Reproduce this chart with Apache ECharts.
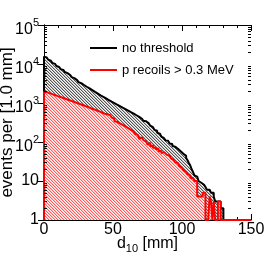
<!DOCTYPE html>
<html><head><meta charset="utf-8">
<script src="https://cdn.jsdelivr.net/npm/echarts@6/dist/echarts.min.js"></script>
<style>html,body{margin:0;padding:0;background:#fff}#c{width:266px;height:254px}</style>
</head><body><div id="c"></div>
<script>
// ---- data (1 mm bins, bin i covers [i, i+1) mm) ----
const binStart = 0;
const binWidth = 1;
const noThreshold = [
  15500,14700,13800,13000,12100,11500,10700,10100,9550,8900,
  8400,7950,7400,7050,6600,6250,5850,5500,5230,4880,
  4600,4350,4080,3870,3600,3430,3220,3070,2890,2760,
  2610,2470,2360,2220,2130,2000,1920,1810,1740,1640,
  1570,1490,1440,1360,1310,1230,1190,1120,1080,1020,
  990,930,905,850,830,780,760,715,700,655,
  640,600,585,545,535,495,485,450,440,410,
  395,380,350,340,312,300,275,262,240,228,
  205,195,172,163,146,138,125,121,110,107,
  100,92,89,79,76,69,67,60,58,52,
  50,45,44,39,34,29,25,20,17,14,
  13,12,10,9,9,8,9,7,6,6,
  6,5,5,4,3,3,3,3,2,2,
  0,0,0,0,0,0,0,0,0,0,
  0,0,0,0,0,0,0,0,0,0
];
const pRecoils = [
  1950,1900,1850,1790,1750,1690,1650,1590,1560,1500,
  1470,1420,1390,1340,1310,1270,1240,1190,1170,1130,
  1100,1060,1040,1000,980,945,925,890,870,835,
  815,785,765,735,720,690,675,650,635,610,
  595,570,560,530,500,515,470,485,450,425,
  395,340,330,318,300,292,275,268,250,242,
  228,220,205,198,186,172,160,152,140,120,
  132,118,112,104,100,86,95,78,82,70,
  74,65,68,58,60,52,55,49,47,44,
  45,40,38,35,33,30,29,26,24,22,
  20,19,17,18,15,14,12,12,11,10,
  10,4,4,4,4,5,5,0,0,0,
  4,3,0,3,0,0,3,3,0,0,
  0,0,0,0,0,0,0,0,0,0,
  0,0,0,0,0,0,0,0,0,0
];
const seriesNames = ['no threshold', 'p recoils > 0.3 MeV'];
const xTickValues = [0, 50, 100, 150];
const yRange = [1, 100000];

// ---- helpers ----
const FONT = 'Liberation Sans';
// diagonal hatch: shades[k] is the colour k pixels off the line
function hatch(shades) {
  const period = shades.length;
  const n = period * 4;
  const c = document.createElement('canvas');
  c.width = n; c.height = n;
  const g = c.getContext('2d');
  for (let y = 0; y < n; y++)
    for (let x = 0; x < n; x++) {
      const k = ((x - y) % period + period) % period;
      g.fillStyle = shades[k];
      g.fillRect(x, y, 1, 1);
    }
  return c;
}
function histPoints(counts) {
  const floor = yRange[0];
  const pts = [[binStart, floor]];
  counts.forEach((v, i) => pts.push([binStart + i * binWidth, Math.max(v, floor)]));
  const last = counts[counts.length - 1];
  pts.push([binStart + counts.length * binWidth, Math.max(last, floor)]);
  return pts;
}

const chart = echarts.init(document.getElementById('c'), null, {renderer: 'canvas', devicePixelRatio: 1});
const xCommon = {
  type: 'value', min: xTickValues[0], max: xTickValues[xTickValues.length - 1],
  interval: xTickValues[1] - xTickValues[0],
  splitLine: {show: false},
  axisLine: {show: true, lineStyle: {color: '#000', width: 1}},
  axisTick: {show: true, inside: true, length: 6, lineStyle: {color: '#000'}},
  minorTick: {show: true, splitNumber: 5, length: 3, lineStyle: {color: '#000'}}
};
const yCommon = {
  type: 'log', logBase: 10, min: yRange[0], max: yRange[1], splitNumber: 5,
  splitLine: {show: false}, minorSplitLine: {show: false},
  axisLine: {show: true, lineStyle: {color: '#000', width: 1}},
  axisTick: {show: true, inside: true, length: 6, lineStyle: {color: '#000'}}
};

chart.setOption({
  animation: false,
  backgroundColor: '#fff',
  textStyle: {fontFamily: FONT},
  grid: {left: 44, right: 15, top: 25, bottom: 34, containLabel: false, outerBoundsMode: 'none'},
  legend: {
    data: seriesNames, orient: 'vertical', left: 85, top: 36,
    icon: 'rect', itemWidth: 27, itemHeight: 2, itemGap: 8, selectedMode: false,
    textStyle: {fontFamily: FONT, fontSize: 13, color: '#000', lineHeight: 14}
  },
  xAxis: [
    Object.assign({}, xCommon, {
      position: 'bottom',
      name: '{a|d}{s|10}{a| [mm]}', nameLocation: 'middle', nameGap: 15, nameMoveOverlap: false,
      nameTextStyle: {rich: {
        a: {fontFamily: FONT, fontSize: 16, color: '#000', lineHeight: 20, height: 18, verticalAlign: 'top'},
        s: {fontFamily: FONT, fontSize: 11, color: '#000', lineHeight: 20, height: 12, verticalAlign: 'bottom'}
      }},
      axisLabel: {show: true, margin: 2, fontFamily: FONT, fontSize: 16, color: '#000'}
    }),
    Object.assign({}, xCommon, {position: 'top', axisLabel: {show: false}})
  ],
  yAxis: [
    Object.assign({}, yCommon, {
      position: 'left',
      name: 'events per [1.0 mm]', nameLocation: 'middle', nameGap: 28, nameMoveOverlap: false,
      nameTextStyle: {fontFamily: FONT, fontSize: 17, color: '#000'},
      axisLabel: {
        show: true, margin: 5, color: '#000',
        formatter: function (v) {
          const e = Math.round(Math.log10(v));
          if (e === 0) return '{p|1}';
          if (e === 1) return '{p|10}';
          return '{b|10}{s|' + e + '}';
        },
        rich: {
          p: {fontFamily: FONT, fontSize: 16, color: '#000', lineHeight: 18},
          b: {fontFamily: FONT, fontSize: 16, color: '#000', lineHeight: 26, height: 17, verticalAlign: 'bottom'},
          s: {fontFamily: FONT, fontSize: 11, color: '#000', lineHeight: 26, height: 22, verticalAlign: 'top'}
        }
      }
    }),
    Object.assign({}, yCommon, {position: 'right', axisLabel: {show: false}})
  ],
  series: [
    {
      name: seriesNames[0], type: 'line', step: 'end', symbol: 'none',
      xAxisIndex: 0, yAxisIndex: 0, z: 2,
      color: '#000',
      lineStyle: {color: '#000', width: 2},
      areaStyle: {origin: 'start', opacity: 1, color: {image: hatch(['#555555', '#bdbdbd', '#f7f7f7']), repeat: 'repeat'}},
      data: histPoints(noThreshold)
    },
    {
      name: seriesNames[1], type: 'line', step: 'end', symbol: 'none',
      xAxisIndex: 0, yAxisIndex: 0, z: 3,
      color: '#ff0000',
      lineStyle: {color: '#ff0000', width: 2},
      areaStyle: {origin: 'start', opacity: 1, color: {image: hatch(['#ff5a5a', '#ffc4c4', '#fff7f7']), repeat: 'repeat'}},
      data: histPoints(pRecoils)
    }
  ]
});

// minor log ticks on left and right (positions from the axis scale)
const gfx = [];
const xl = chart.convertToPixel({xAxisIndex: 0}, xTickValues[0]);
const xr = chart.convertToPixel({xAxisIndex: 0}, xTickValues[xTickValues.length - 1]);
for (let v = yRange[0]; v < yRange[1]; v *= 10) {
  for (let m = 2; m <= 9; m++) {
    const y = Math.round(chart.convertToPixel({yAxisIndex: 0}, v * m)) + 0.5;
    gfx.push({type: 'line', z: 50, silent: true, shape: {x1: xl, y1: y, x2: xl + 3, y2: y}, style: {stroke: '#000', lineWidth: 1}});
    gfx.push({type: 'line', z: 50, silent: true, shape: {x1: xr - 3, y1: y, x2: xr, y2: y}, style: {stroke: '#000', lineWidth: 1}});
  }
}
chart.setOption({graphic: gfx});
</script></body></html>
